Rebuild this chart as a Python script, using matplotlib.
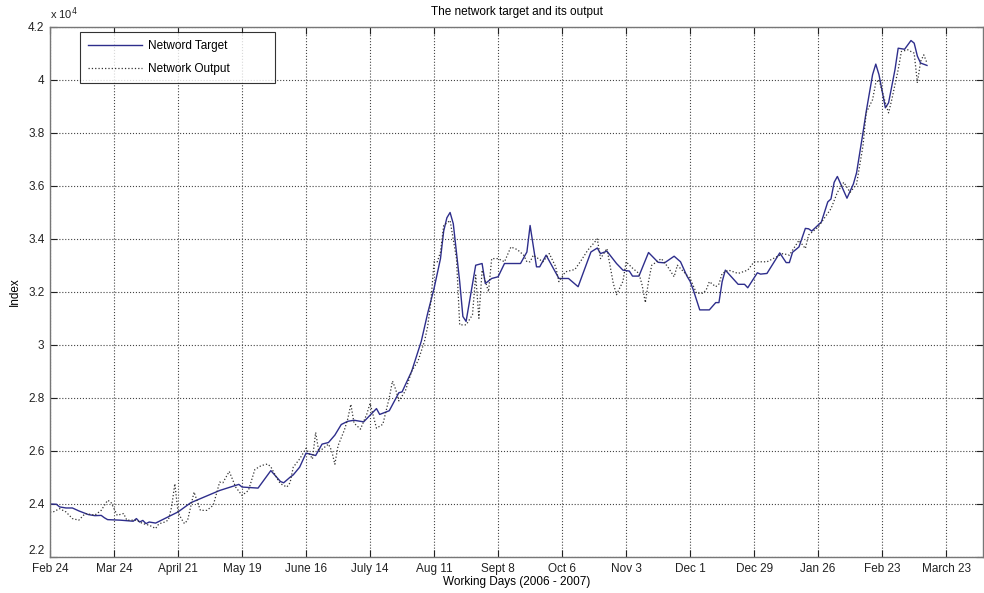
import numpy as np
import matplotlib
matplotlib.use("Agg")
import matplotlib.pyplot as plt
from matplotlib.ticker import FuncFormatter

plt.rcParams['font.family'] = ['Liberation Sans', 'DejaVu Sans']

# working-day index and index level of the network target
target_days = [0, 2, 3, 5, 7, 9, 12, 14, 16, 17, 18, 20, 22, 26, 27, 28, 29, 30, 31, 33,
               40, 44, 53, 59, 60, 65, 69, 72, 73, 75, 76, 78, 80, 82, 83, 85, 87, 89, 91,
               93, 95, 98, 100, 102, 103, 106, 109, 110, 113, 115, 116, 118, 120, 122, 123,
               124, 125, 126, 128, 129, 130, 133, 135, 136, 138, 140, 142, 147, 149, 150,
               152, 153, 155, 159, 162, 165, 169, 171, 172, 174, 177, 179, 181, 182, 184,
               187, 190, 192, 195, 197, 199, 200, 201, 203, 206, 208, 209, 210, 211, 215,
               217, 218, 221, 222, 224, 228, 230, 231, 232, 234, 236, 237, 238, 241, 243,
               244, 245, 246, 249, 251, 252, 254, 255, 256, 257, 258, 259, 261, 262, 264,
               265, 267, 269, 270, 271, 272, 274]
target_vals = [24000, 23990, 23890, 23850, 23850, 23740, 23600, 23560, 23570, 23480, 23410,
               23400, 23390, 23350, 23450, 23320, 23380, 23260, 23320, 23280,
               23700, 24050, 24510, 24740, 24640, 24600, 25260, 24850, 24800, 25010, 25100,
               25390, 25920, 25860, 25830, 26260, 26320, 26600, 27000,
               27120, 27160, 27100, 27350, 27600, 27380, 27520, 28200, 28230, 29010, 29760,
               30140, 31200, 32140, 33260, 34300,
               34800, 35000, 34575, 32390, 31075, 30890, 33010, 33075, 32320, 32510, 32575,
               33075, 33075, 33510, 34510,
               32950, 32950, 33390, 32510, 32510, 32200, 33510, 33660, 33450, 33540, 33075,
               32825, 32790, 32600, 32600,
               33490, 33120, 33100, 33350, 33140, 32600, 32400, 32075, 31325, 31325, 31600,
               31600, 32390, 32825, 32290,
               32290, 32160, 32725, 32675, 32700, 33475, 33110, 33110, 33500, 33700, 34400,
               34385, 34300, 34640, 35400,
               35510, 36140, 36360, 35540, 36075, 36500, 38010, 38800, 39500, 40200, 40600,
               40200, 38950, 39140, 40390,
               41200, 41160, 41490, 41390, 40900, 40640, 40550]

# network output (one-step prediction)
output_days = [0, 1, 3, 5, 7, 9, 11, 14, 16, 18, 19, 21, 23, 24, 27, 29, 31, 33, 34, 36,
               37, 38, 39, 40, 41, 42, 43, 45, 46, 47, 49, 51, 53, 54, 56, 58, 60, 62, 64,
               66, 68, 69, 71, 72, 74, 75, 76, 78, 80, 82, 83, 84, 87, 88, 89, 90, 92, 93,
               94, 95, 97, 99, 100, 102, 104, 106, 107, 108, 109, 111, 113, 115, 117, 118,
               119, 120, 121, 122, 123, 125, 127, 128, 130, 132, 133, 134, 135, 137, 138,
               140, 142, 144, 146, 148, 149, 150, 151, 154, 156, 158, 159, 161, 164, 166,
               168, 171, 172, 174, 176, 177, 179, 180, 182, 184, 185, 186, 187, 188, 191,
               193, 195, 196, 200, 202, 204, 205, 206, 208, 209, 210, 212, 215, 218, 220,
               224, 229, 231, 234, 236, 237, 238, 240, 242, 244, 246, 248, 250, 252, 254,
               255, 257, 258, 259, 261, 262, 263, 265, 266, 268, 270, 271, 272, 273, 274]
output_vals = [23700, 23700, 23825, 23700, 23450, 23390, 23640, 23580, 23760, 24140, 24075,
               23575, 23640, 23390, 23390, 23260, 23200, 23075, 23250, 23325,
               23400, 23890, 24765, 23700, 23450, 23260, 23390, 24450, 24100, 23760, 23760,
               23950, 24825, 24800, 25230, 24640, 24325, 24510, 25300,
               25450, 25510, 25400, 24950, 24765, 24640, 24800, 25390, 25700, 26100, 25700,
               26700, 25970, 26260, 26010, 25500, 26200, 26800, 27200,
               27760, 27050, 26825, 27400, 27800, 26860, 27010, 28010, 28640, 28325, 27890,
               28260, 29010, 29400, 30140, 30700,
               31640, 33140, 33140, 33510, 34510, 34700, 33260, 30760, 30760, 31140, 32640,
               31010, 32825, 32010, 33260,
               33260, 33140, 33700, 33600, 33390, 33140, 33140, 33390, 33140, 33450, 32950,
               32390, 32760, 32850, 33200,
               33575, 34000, 33260, 33640, 32320, 31900, 32400, 33140, 32900, 32700, 32260,
               31600, 32400, 33010, 33260,
               32950, 32575, 33010, 32510, 31950, 31950, 32075, 32390, 32200, 32300, 32700,
               32825, 32700, 32825, 33140,
               33140, 33450, 33390, 33950, 33640, 34150, 34250, 34450, 34800, 35140, 35760,
               36140, 35760, 36075, 37510,
               38760, 39260, 39890, 40010, 39140, 38760, 39260, 40390, 41075, 41140, 41010,
               39890, 40700, 40950, 40640]

tick_days = list(range(0, 281, 20))
tick_labels = ['Feb 24', 'Mar 24', 'April 21', 'May 19', 'June 16', 'July 14', 'Aug 11',
               'Sept 8', 'Oct 6', 'Nov 3', 'Dec 1', 'Dec 29', 'Jan 26', 'Feb 23', 'March 23']

fs = 8.5

fig = plt.figure(figsize=(9.84, 5.93), dpi=100)
ax = fig.add_axes([50 / 984, 36 / 593, 933 / 984, 530 / 593])

ax.plot(target_days, target_vals, color='#2e2e8c', lw=1.0, label='Netword Target')
ax.plot(output_days, output_vals, color='#333333', lw=0.9, ls=':', label='Network Output')

ax.set_xlim(0, 291.5)
ax.set_ylim(22000, 42000)
ax.set_xticks(tick_days)
ax.set_xticklabels(tick_labels)
ax.set_yticks(np.arange(22000, 42001, 2000))
ax.yaxis.set_major_formatter(FuncFormatter(lambda v, p: '%g' % round(v / 1e4, 1)))

ax.grid(True, ls=':', color='#444444', lw=0.8)
ax.tick_params(direction='in', length=5, top=True, right=True, labelsize=fs,
               colors='#222222', width=0.8)
ax.tick_params(axis='x', pad=4)
ax.tick_params(axis='y', pad=4)
for s in ax.spines.values():
    s.set_color('#777777')
    s.set_linewidth(1.0)

# the bottom y label sits just above the first date label
ax.get_yticklabels()[0].set_verticalalignment('bottom')

ax.text(0.0, 1.01, r'x 10$^{4}$', transform=ax.transAxes, fontsize=fs - 0.5,
        ha='left', va='bottom', color='#222222')
ax.set_title('The network target and its output', fontsize=fs, pad=9)
ax.set_xlabel('Working Days (2006 - 2007)', fontsize=fs, labelpad=1)
ax.set_ylabel('Index', fontsize=fs, labelpad=5)

# legend box stretched to a fixed width, entries kept at the left
leg = ax.legend(loc='upper left', bbox_to_anchor=(30 / 933, 1 - 5 / 530, 195 / 933, 0.0),
                mode='expand', fontsize=fs, frameon=True, fancybox=False, borderaxespad=0,
                handlelength=4.6, handletextpad=0.5, borderpad=0.65, labelspacing=0.95)
leg.get_frame().set_edgecolor('black')
leg.get_frame().set_linewidth(0.8)

fig.savefig('out.png', dpi=100)
